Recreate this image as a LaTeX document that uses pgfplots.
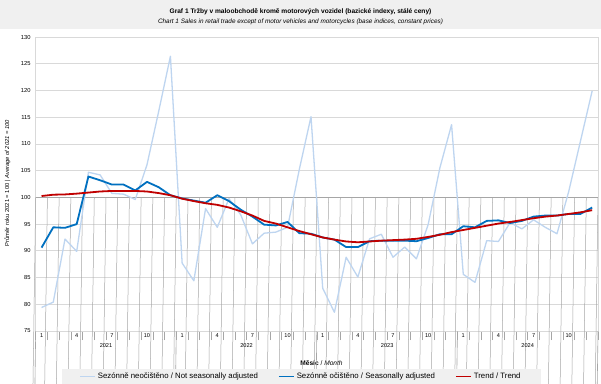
\documentclass[border=0pt]{standalone}
\usepackage{pgfplots}
\pgfplotsset{compat=1.18}
\usepackage{fontspec}
\setmainfont{Liberation Sans}
\definecolor{nsa}{RGB}{190,213,240}
\definecolor{sa}{RGB}{0,112,192}
\definecolor{tr}{RGB}{192,0,0}
\definecolor{gridc}{RGB}{217,217,217}
\definecolor{band}{RGB}{240,240,240}
\definecolor{axc}{RGB}{166,166,166}
\begin{document}
\begin{tikzpicture}[x=1pt,y=1pt]
\path[use as bounding box, fill=white] (0,0) rectangle (601,383);
\fill[band] (0,354) rectangle (601,383);
\node[font=\fontsize{6.6}{7}\selectfont\bfseries] at (300.5,371.5) {Graf 1 Tržby v maloobchodě kromě motorových vozidel (bazické indexy, stálé ceny)};
\node[font=\fontsize{6.4}{7}\selectfont\itshape] at (300.5,361.5) {Chart 1 Sales in retail trade except of motor vehicles and motorcycles (base indices, constant prices)};
\node[rotate=90, font=\fontsize{5.8}{6}\selectfont] at (7.5,200) {Průměr roku 2021 = 100 | \textit{Average of 2021 = 100}};
\node[font=\fontsize{6.6}{7}\selectfont] at (321.5,20.3) {\textbf{Měsíc} / \textit{Month}};
\begin{axis}[
  at={(35.7pt,52pt)}, anchor=south west,
  scale only axis, width=562.3pt, height=294pt,
  xmin=0.5, xmax=48.5, ymin=75, ymax=130,
  ytick={75,80,...,130},
  ymajorgrids, grid style={gridc, line width=0.8pt},
  axis line style={gridc, line width=0.8pt},
  major tick length=0pt,
  ytick style={draw=none},
  yticklabel style={font=\fontsize{5.8}{6}\selectfont, xshift=-1.5pt},
  /pgf/number format/assume math mode=true,
  xtick={1,4,...,46},
  xticklabels={1,4,7,10,1,4,7,10,1,4,7,10,1,4,7,10},
  xticklabel style={font=\fontsize{5.6}{6}\selectfont, yshift=0.5pt},
  minor xtick={0.5,1.5,...,48.5},
  xtick align=outside,
  minor x tick style={axc, line width=0.6pt},
  minor tick length=9pt,
  xtick pos=bottom,
  clip=false,
  legend style={at={(0.472,-0.155)}, anchor=center, legend columns=3, fill=band, draw=none,
    font=\fontsize{7.8}{8.5}\selectfont, inner xsep=18pt, inner ysep=2pt,
    /tikz/every even column/.append style={column sep=18pt}},
  legend image code/.code={\draw[#1] (0pt,0pt) -- (15pt,0pt);},
  line join=round,
]
\draw[axc, line width=0.8pt] (axis cs:0.5,100) -- (axis cs:48.5,100);
\pgfplotsinvokeforeach{0.5,1.5,...,48.5}{\draw[axc, line width=0.5pt] (axis cs:#1,100) -- ++(0,-2pt);}
\pgfplotsinvokeforeach{0.5,12.5,24.5,36.5,48.5}{\draw[axc, line width=0.6pt] (axis cs:#1,75) -- ++(0,-19pt);}
\draw[gridc, line width=0.8pt] (axis cs:48.5,75) -- (axis cs:48.5,130);
\node[font=\fontsize{5.6}{6}\selectfont] at (axis cs:6.5,75) [yshift=-14.7pt] {2021};
\node[font=\fontsize{5.6}{6}\selectfont] at (axis cs:18.5,75) [yshift=-14.7pt] {2022};
\node[font=\fontsize{5.6}{6}\selectfont] at (axis cs:30.5,75) [yshift=-14.7pt] {2023};
\node[font=\fontsize{5.6}{6}\selectfont] at (axis cs:42.5,75) [yshift=-14.7pt] {2024};
\addplot[nsa, line width=1.3pt, mark=none] coordinates {
(1,79.4) (2,80.4) (3,92.2) (4,89.9) (5,104.7) (6,104.2) (7,100.75) (8,100.6) (9,99.6) (10,106.1) (11,116.1) (12,126.4)
(13,87.7) (14,84.4) (15,97.9) (16,94.4) (17,99.75) (18,96.75) (19,91.3) (20,93.3) (21,93.5) (22,94.4) (23,105.2) (24,115.1)
(25,83.0) (26,78.5) (27,88.8) (28,85.1) (29,92.25) (30,93.1) (31,88.8) (32,90.7) (33,88.5) (34,94.9) (35,105.5) (36,113.6)
(37,85.6) (38,84.1) (39,91.9) (40,91.75) (41,95.3) (42,94.1) (43,95.8) (44,94.4) (45,93.2) (46,101.1) (47,110.5) (48,119.9)
};
\addlegendentry{Sezónně neočištěno / Not seasonally adjusted}
\addplot[sa, line width=1.8pt, mark=none] coordinates {
(1,90.6) (2,94.4) (3,94.3) (4,95.0) (5,103.9) (6,103.2) (7,102.4) (8,102.4) (9,101.3) (10,102.9) (11,101.9) (12,100.4)
(13,99.8) (14,99.4) (15,99.0) (16,100.4) (17,99.3) (18,97.7) (19,96.4) (20,94.9) (21,94.75) (22,95.4) (23,93.3) (24,93.2)
(25,92.5) (26,92.1) (27,90.7) (28,90.7) (29,91.8) (30,91.9) (31,91.9) (32,91.9) (33,91.8) (34,92.4) (35,93.1) (36,93.1)
(37,94.6) (38,94.4) (39,95.6) (40,95.7) (41,95.2) (42,95.6) (43,96.4) (44,96.6) (45,96.6) (46,96.9) (47,96.9) (48,98.1)
};
\addlegendentry{Sezónně očištěno / Seasonally adjusted}
\addplot[tr, line width=1.8pt, mark=none] coordinates {
(1,100.25) (2,100.5) (3,100.55) (4,100.7) (5,100.9) (6,101.1) (7,101.2) (8,101.2) (9,101.2) (10,101.1) (11,100.8) (12,100.4)
(13,99.75) (14,99.3) (15,98.9) (16,98.6) (17,98.1) (18,97.4) (19,96.6) (20,95.6) (21,95.1) (22,94.4) (23,93.7) (24,93.1)
(25,92.5) (26,92.1) (27,91.75) (28,91.6) (29,91.75) (30,91.9) (31,92.0) (32,92.1) (33,92.25) (34,92.6) (35,93.0) (36,93.5)
(37,93.9) (38,94.3) (39,94.7) (40,95.1) (41,95.4) (42,95.75) (43,96.1) (44,96.4) (45,96.6) (46,96.9) (47,97.2) (48,97.6)
};
\addlegendentry{Trend / Trend}
\end{axis}
\end{tikzpicture}
\end{document}
